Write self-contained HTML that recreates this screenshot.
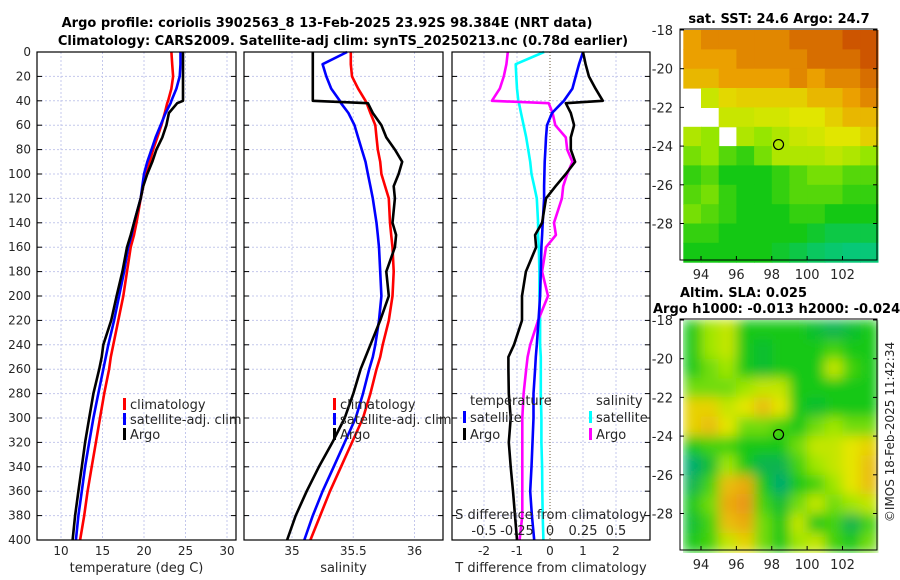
<!DOCTYPE html>
<html><head><meta charset="utf-8"><style>
html,body{margin:0;padding:0;background:#fff;}
svg{display:block;font-family:"DejaVu Sans","Liberation Sans",sans-serif;}
.tk{font-size:12px;fill:#262626;}
.tt{font-size:13px;font-weight:bold;fill:#000;}
</style></head><body>
<svg id="fig" width="900" height="580" viewBox="0 0 900 580" xmlns="http://www.w3.org/2000/svg">
<text class="tt" x="327" y="27" text-anchor="middle">Argo profile: coriolis 3902563_8 13-Feb-2025 23.92S 98.384E (NRT data)</text>
<text class="tt" x="343" y="45" text-anchor="middle">Climatology: CARS2009. Satellite-adj clim: synTS_20250213.nc (0.78d earlier)</text>
<text class="tt" x="779" y="23" text-anchor="middle">sat. SST: 24.6 Argo: 24.7</text>
<text class="tt" x="680" y="297">Altim. SLA: 0.025</text>
<text class="tt" x="653" y="313">Argo h1000: -0.013 h2000: -0.024</text>
<text class="tk" transform="translate(894,432) rotate(-90)" text-anchor="middle">©IMOS 18-Feb-2025 11:42:34</text>
<g id="plots"></g>
</svg>
<script>
// ---------- data ----------
const depths = [0,10,20,30,40,42,50,60,70,80,90,100,110,120,140,150,160,180,200,220,240,250,260,280,300,320,340,360,380,400];
const tempClim = [23.3,23.4,23.5,23.3,22.9,22.8,22.5,22.1,21.6,21.1,20.7,20.3,19.9,19.6,19.1,18.8,18.4,17.95,17.5,16.9,16.3,16.0,15.8,15.2,14.7,14.2,13.7,13.2,12.8,12.3];
const tempSat  = [24.4,24.4,24.3,23.9,23.3,23.2,22.6,22.0,21.4,20.9,20.4,20.0,19.8,19.6,18.8,18.5,18.1,17.6,17.0,16.4,15.7,15.4,15.1,14.5,13.9,13.4,12.9,12.5,12.1,11.8];
const tempArgo = [24.7,24.7,24.7,24.7,24.7,24.0,23.0,22.7,22.2,21.5,21.0,20.4,19.9,19.6,18.8,18.4,17.95,17.4,16.7,16.05,15.1,14.9,14.6,13.9,13.4,12.9,12.5,12.1,11.7,11.4];
const salClim = [35.48,35.48,35.49,35.54,35.60,35.61,35.64,35.68,35.69,35.70,35.72,35.73,35.76,35.79,35.80,35.81,35.82,35.83,35.82,35.79,35.74,35.72,35.69,35.64,35.58,35.49,35.40,35.31,35.23,35.15];
const salSat  = [35.45,35.25,35.28,35.32,35.39,35.40,35.46,35.51,35.54,35.57,35.60,35.62,35.64,35.66,35.69,35.70,35.71,35.72,35.73,35.71,35.68,35.66,35.63,35.58,35.52,35.43,35.34,35.25,35.17,35.10];
const salArgo = [35.17,35.17,35.17,35.17,35.17,35.62,35.66,35.73,35.77,35.84,35.90,35.87,35.83,35.84,35.82,35.85,35.84,35.77,35.79,35.72,35.64,35.60,35.56,35.50,35.43,35.33,35.22,35.12,35.03,34.96];
const dTsat  = [1.0,0.88,0.78,0.68,0.42,0.35,0.06,-0.09,-0.12,-0.14,-0.16,-0.17,-0.18,-0.18,-0.22,-0.24,-0.26,-0.28,-0.3,-0.35,-0.4,-0.43,-0.45,-0.5,-0.5,-0.53,-0.56,-0.6,-0.55,-0.48];
const dTargo = [1.0,1.08,1.18,1.38,1.6,0.48,0.63,0.73,0.63,0.63,0.76,0.48,0.17,-0.12,-0.24,-0.45,-0.42,-0.73,-0.85,-0.85,-1.09,-1.26,-1.26,-1.25,-1.19,-1.25,-1.19,-1.12,-1.06,-1.0];
const dSsat  = [-0.045,-0.26,-0.255,-0.25,-0.24,-0.235,-0.22,-0.20,-0.18,-0.165,-0.15,-0.14,-0.12,-0.1,-0.09,-0.09,-0.085,-0.08,-0.08,-0.075,-0.075,-0.07,-0.07,-0.07,-0.065,-0.065,-0.06,-0.058,-0.055,-0.05];
const dSargo = [-0.32,-0.33,-0.35,-0.38,-0.44,-0.01,0.02,0.04,0.12,0.13,0.17,0.13,0.1,0.09,0.03,0.045,-0.03,-0.06,-0.015,-0.09,-0.15,-0.17,-0.18,-0.2,-0.21,-0.21,-0.21,-0.21,-0.21,-0.23];
const depthTicks = [0,20,40,60,80,100,120,140,160,180,200,220,240,260,280,300,320,340,360,380,400];
const tempTicks = [10,15,20,25,30];
const salTicks = [35,35.5,36];
const dTTicks = [-2,-1,0,1,2];
const dSTicks = [-0.5,-0.25,0,0.25,0.5];
const dSTickLabels = ["-0.5","-0.25","0","0.25","0.5"];
// SST map (normalized 0..1, null = no data), rows lat -18..-30, cols lon 93..104
const sstGrid = [
[0.8,0.85,0.85,0.85,0.85,0.85,0.9,0.9,0.9,0.95,0.95],
[0.8,0.8,0.8,0.85,0.85,0.85,0.85,0.9,0.9,0.9,0.95],
[0.75,0.75,0.8,0.8,0.8,0.8,0.85,0.8,0.85,0.85,0.9],
[null,0.6,0.68,0.7,0.7,0.7,0.7,0.75,0.75,0.8,0.85],
[null,null,0.6,0.6,0.62,0.62,0.65,0.65,0.7,0.75,0.75],
[0.55,0.5,null,0.55,0.5,0.55,0.6,0.62,0.65,0.65,0.7],
[0.45,0.5,0.4,0.35,0.45,0.55,0.55,0.55,0.58,0.55,0.5],
[0.35,0.4,0.3,0.3,0.3,0.35,0.4,0.45,0.45,0.4,0.4],
[0.4,0.45,0.35,0.3,0.3,0.35,0.4,0.4,0.4,0.35,0.35],
[0.45,0.4,0.35,0.3,0.3,0.3,0.35,0.35,0.3,0.3,0.3],
[0.35,0.35,0.3,0.3,0.3,0.3,0.3,0.25,0.2,0.2,0.2],
[0.3,0.3,0.3,0.3,0.3,0.25,0.2,0.15,0.12,0.1,0.1]];
const slaGrid = [
[0.4,0.55,0.6,0.4,0.4,0.4,0.4,0.35,0.3,0.35,0.4],
[0.4,0.55,0.6,0.4,0.35,0.4,0.4,0.4,0.45,0.4,0.4],
[0.4,0.5,0.55,0.4,0.35,0.4,0.4,0.4,0.6,0.45,0.4],
[0.5,0.5,0.5,0.55,0.6,0.6,0.4,0.4,0.4,0.4,0.4],
[0.7,0.7,0.6,0.65,0.75,0.65,0.4,0.35,0.4,0.4,0.4],
[0.7,0.75,0.65,0.5,0.5,0.45,0.4,0.5,0.55,0.5,0.5],
[0.4,0.45,0.45,0.4,0.4,0.4,0.5,0.6,0.6,0.65,0.7],
[0.25,0.35,0.55,0.4,0.3,0.3,0.45,0.55,0.6,0.65,0.75],
[0.3,0.45,0.75,0.8,0.4,0.25,0.4,0.45,0.55,0.65,0.75],
[0.4,0.5,0.8,0.85,0.45,0.35,0.5,0.6,0.5,0.55,0.6],
[0.35,0.45,0.75,0.8,0.5,0.4,0.6,0.4,0.45,0.3,0.45],
[0.4,0.45,0.6,0.7,0.5,0.4,0.55,0.6,0.45,0.4,0.5]];
const lonTicks = [94,96,98,100,102];
const latTicks = [-18,-20,-22,-24,-26,-28];
const argoLon = 98.384, argoLat = -23.92;

// ---------- helpers ----------
const NS = "http://www.w3.org/2000/svg";
const root = document.getElementById('plots');
function mk(tag, attrs, parent) {
  const e = document.createElementNS(NS, tag);
  for (const k in attrs) e.setAttribute(k, attrs[k]);
  (parent || root).appendChild(e);
  return e;
}
const Y0 = 52, Y1 = 540;
const yD = d => Y0 + d * (Y1 - Y0) / 400;
function lin(d0, d1, p0, p1) { return v => p0 + (v - d0) * (p1 - p0) / (d1 - d0); }

function panel(name, x0, x1, xs, ticks, labels, xlabel, showY) {
  const g = mk('g', {});
  
  
  depthTicks.forEach(d => {
    const l = mk('line', {x1: x0, x2: x1, y1: yD(d), y2: yD(d), stroke: '#c4c8ec', 'stroke-width': 1, 'stroke-dasharray': '2,2'}, g);
    
    
    mk('line', {x1: x0, x2: x0 + 5, y1: yD(d), y2: yD(d), stroke: '#000'}, g);
    mk('line', {x1: x1 - 5, x2: x1, y1: yD(d), y2: yD(d), stroke: '#000'}, g);
    if (showY) {
      const t = mk('text', {x: 31, y: yD(d) + 4, 'text-anchor': 'end', class: 'tk'}, g);
      t.textContent = d;
      
      
    }
  });
  ticks.forEach((v, i) => {
    const X = xs(v);
    const isZero = v === 0 && name === 'diff-panel';
    const l = mk('line', {x1: X, x2: X, y1: Y0, y2: Y1, stroke: isZero ? '#6b5a3a' : '#c4c8ec', 'stroke-width': 1, 'stroke-dasharray': isZero ? '1,2' : '2,2'}, g);
    
    
    const t = mk('text', {x: X, y: 555, 'text-anchor': 'middle', class: 'tk'}, g);
    t.textContent = labels[i];
    
    
  });
  const xl = mk('text', {x: (x0 + x1) / 2, y: 572, 'text-anchor': 'middle', class: 'tk', style: 'font-size:13px'}, g);
  xl.textContent = xlabel;
  
  
  return g;
}
function series(g, vals, xs, color, name, w) {
  const pts = depths.map((d, i) => xs(vals[i]).toFixed(1) + ',' + yD(d).toFixed(1)).join(' ');
  const p = mk('polyline', {points: pts, fill: 'none', stroke: color, 'stroke-width': w || 2.6, 'stroke-linejoin': 'round'}, g);
  
  
}
function frame(g, x0, x1) {
  mk('rect', {x: x0, y: Y0, width: x1 - x0, height: Y1 - Y0, fill: 'none', stroke: '#000', 'stroke-width': 1.2}, g);
}
function legend(g, x, y, text, color) {
  if (color) mk('rect', {x: x - 7, y: y - 7, width: 3, height: 12, fill: color}, g);
  const t = mk('text', {x: x, y: y + 4, class: 'tk', style: 'font-size:13px'}, g);
  t.textContent = text;
  
  
}

// Panel 1 temperature
const xT = lin(10, 30, 61, 227);
const g1 = panel('temperature-panel', 37, 236, xT, tempTicks, tempTicks, 'temperature (deg C)', true);
series(g1, tempClim, xT, '#ff0000', 'temp-climatology-line');
series(g1, tempSat, xT, '#0000ff', 'temp-satellite-line');
series(g1, tempArgo, xT, '#000000', 'temp-argo-line');
frame(g1, 37, 236);
legend(g1, 130, 405, 'climatology', '#ff0000');
legend(g1, 130, 420, 'satellite-adj. clim', '#0000ff');
legend(g1, 130, 435, 'Argo', '#000');

// Panel 2 salinity
const xS = lin(35, 36, 292, 414.5);
const g2 = panel('salinity-panel', 244, 443, xS, salTicks, salTicks, 'salinity', false);
series(g2, salClim, xS, '#ff0000', 'sal-climatology-line');
series(g2, salSat, xS, '#0000ff', 'sal-satellite-line');
series(g2, salArgo, xS, '#000000', 'sal-argo-line');
frame(g2, 244, 443);
legend(g2, 340, 405, 'climatology', '#ff0000');
legend(g2, 340, 420, 'satellite-adj. clim', '#0000ff');
legend(g2, 340, 435, 'Argo', '#000');

// Panel 3 differences
const xdT = lin(0, 1, 550, 583);
const xdS = lin(0, 0.25, 550, 583);
const g3 = panel('diff-panel', 452, 650, xdT, dTTicks, dTTicks, 'T difference from climatology', false);
series(g3, dSsat, xdS, '#00ffff', 'sal-diff-satellite-line');
series(g3, dSargo, xdS, '#ff00ff', 'sal-diff-argo-line');
series(g3, dTsat, xdT, '#0000ff', 'temp-diff-satellite-line');
series(g3, dTargo, xdT, '#000000', 'temp-diff-argo-line');
frame(g3, 452, 650);
legend(g3, 470, 401, 'temperature', null);
legend(g3, 470, 418, 'satellite', '#0000ff');
legend(g3, 470, 435, 'Argo', '#000');
legend(g3, 596, 401, 'salinity', null);
legend(g3, 596, 418, 'satellite', '#00ffff');
legend(g3, 596, 435, 'Argo', '#ff00ff');
const st = mk('text', {x: 551, y: 519, 'text-anchor': 'middle', class: 'tk', style: 'font-size:13px'}, g3);
st.textContent = 'S difference from climatology';


dSTicks.forEach((v, i) => {
  const t = mk('text', {x: xdS(v), y: 535, 'text-anchor': 'middle', class: 'tk', style: 'font-size:13px'}, g3);
  t.textContent = dSTickLabels[i];
  
  
});

// Maps
function cmap(stops, v) {
  for (let i = 1; i < stops.length; i++) {
    if (v <= stops[i][0]) {
      const a = stops[i - 1], b = stops[i], f = (v - a[0]) / (b[0] - a[0]);
      return 'rgb(' + [1, 2, 3].map(k => Math.round(a[k] + (b[k] - a[k]) * f)).join(',') + ')';
    }
  }
  const s = stops[stops.length - 1];
  return 'rgb(' + s[1] + ',' + s[2] + ',' + s[3] + ')';
}
const sstStops = [[0, 0, 200, 170], [0.3, 20, 200, 20], [0.5, 150, 230, 0], [0.65, 225, 230, 0], [0.8, 235, 160, 0], [1, 195, 60, 0]];
const slaStops = [[0, 0, 160, 130], [0.25, 0, 170, 110], [0.4, 20, 200, 20], [0.55, 160, 230, 0], [0.65, 230, 230, 0], [0.85, 235, 150, 20], [1, 220, 110, 20]];
function mapPanel(name, top, bottom, grid, stops, blur) {
  const g = mk('g', {});
  
  
  const xL = lin(94, 102, 701, 842.5);
  const yL = lin(-18, -28, top + 1, top + 1 + 193.5);
  const cg = mk('g', blur ? {filter: 'url(#blur)'} : {}, g);
  grid.forEach((row, r) => row.forEach((v, c) => {
    if (v === null) return;
    const x = xL(93 + c), y = yL(-18 - r);
    const rc = mk('rect', {x: x.toFixed(1), y: y.toFixed(1), width: (xL(94 + c) - x + 0.6).toFixed(1), height: (yL(-19 - r) - y + 0.6).toFixed(1), fill: cmap(stops, v)}, cg);
    
    
  }));
  mk('rect', {x: 680, y: top, width: 197, height: bottom - top, fill: 'none', stroke: '#000', 'stroke-width': 1}, g);
  lonTicks.forEach(v => {
    mk('line', {x1: xL(v), x2: xL(v), y1: bottom, y2: bottom - 4, stroke: '#000'}, g);
    const t = mk('text', {x: xL(v), y: bottom + 19, 'text-anchor': 'middle', class: 'tk', style: 'font-size:13px'}, g);
    t.textContent = v;
    
    
  });
  latTicks.forEach(v => {
    mk('line', {x1: 680, x2: 684, y1: yL(v), y2: yL(v), stroke: '#000'}, g);
    mk('line', {x1: 873, x2: 877, y1: yL(v), y2: yL(v), stroke: '#000'}, g);
    const t = mk('text', {x: 673, y: yL(v) + 5, 'text-anchor': 'end', class: 'tk', style: 'font-size:13px'}, g);
    t.textContent = v;
    
    
  });
  const m = mk('circle', {cx: xL(argoLon), cy: yL(argoLat), r: 5, fill: 'none', stroke: '#000', 'stroke-width': 1.2}, g);
  
  
}
const defs = mk('defs', {});
const f = mk('filter', {id: 'blur', x: '0', y: '0', width: '1', height: '1'}, defs);
mk('feGaussianBlur', {stdDeviation: 6, edgeMode: 'duplicate'}, f);
mapPanel('sst-map', 29, 260, sstGrid, sstStops, false);
mapPanel('sla-map', 319, 550, slaGrid, slaStops, true);
</script>
</body></html>
